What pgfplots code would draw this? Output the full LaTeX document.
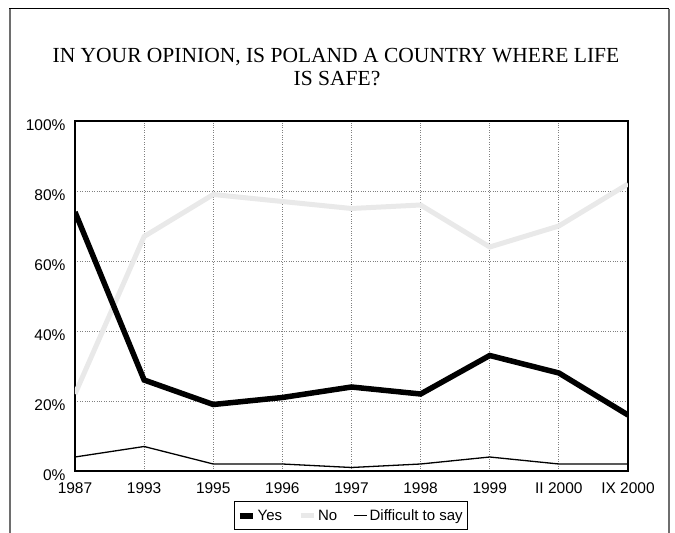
\documentclass[border=0pt]{standalone}
\usepackage{pgfplots}
\pgfplotsset{compat=1.18}
\usepackage{fontspec}
\setmainfont{Liberation Sans}
\newfontfamily\titlefont{Liberation Serif}
\definecolor{nogray}{RGB}{233,233,233}
\definecolor{framegray}{RGB}{110,110,110}

\begin{document}
\begin{tikzpicture}[x=1pt,y=1pt]
\useasboundingbox (0,0) rectangle (675,533);
% page frame; its bottom edge runs past the page
\draw[framegray, line width=2pt] (10,-10) -- (10,524);
\draw[black, line width=1pt] (9,524) -- (669,524);
\draw[framegray, line width=1.5pt] (669,524) -- (669,-10);

\node[font=\titlefont\fontsize{21.5}{23}\selectfont, anchor=base] at (336,470) {IN YOUR OPINION, IS POLAND A COUNTRY WHERE LIFE};
\node[font=\titlefont\fontsize{21.5}{23}\selectfont, anchor=base] at (337,447) {IS SAFE?};

\begin{axis}[
  at={(75pt,62pt)}, anchor=south west,
  scale only axis, width=553pt, height=350pt,
  xmin=0, xmax=8, ymin=0, ymax=100,
  xtick={0,...,8},
  xticklabels={1987,1993,1995,1996,1997,1998,1999,II 2000,IX 2000},
  ytick={0,20,...,100},
  yticklabel={\pgfmathprintnumber{\tick}\%},
  /pgf/number format/assume math mode=true,
  major tick length=0pt,
  grid=major,
  major grid style={gray, dotted, line width=0.9pt},
  axis line style={black, line width=1.2pt},
  tick label style={font=\fontsize{15.5}{18}\selectfont},
  xticklabel style={yshift=-8pt},
  yticklabel style={xshift=-6pt, yshift=-4pt},
  legend columns=3,
  legend style={at={(0.499,-0.128)}, anchor=center, draw=black, line width=1pt,
    font=\fontsize{15}{18}\selectfont, inner xsep=3pt, inner ysep=6pt,
    /tikz/every even column/.append style={column sep=14pt}},
  legend image code/.code={\draw[#1] (0pt,0pt) -- (13pt,0pt);},
]
\addlegendimage{black, line width=5.5pt}
\addlegendentry{Yes}
\addlegendimage{nogray, line width=5pt}
\addlegendentry{No}
\addlegendimage{black, line width=1.3pt}
\addlegendentry{Difficult to say}

% No (drawn first so the Yes line lies over it)
\addplot[nogray, line width=5pt, forget plot] coordinates {
  (0,22) (1,67) (2,79) (3,77) (4,75) (5,76) (6,64) (7,70) (8,82)};
% Yes
\addplot[black, line width=5.5pt, forget plot] coordinates {
  (0,74) (1,26) (2,19) (3,21) (4,24) (5,22) (6,33) (7,28) (8,16)};
% Difficult to say
\addplot[black, line width=1.3pt, forget plot] coordinates {
  (0,4) (1,7) (2,2) (3,2) (4,1) (5,2) (6,4) (7,2) (8,2)};
\end{axis}
\end{tikzpicture}
\end{document}
